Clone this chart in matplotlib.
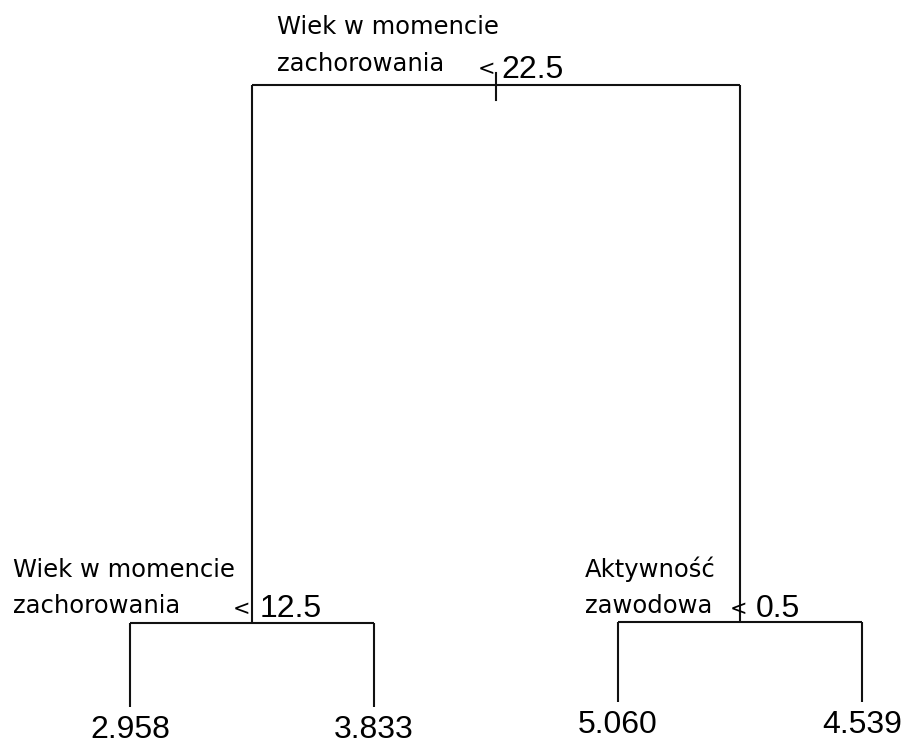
import matplotlib.pyplot as plt

# regression tree (R "tree" style), nodes numbered like the frame: 1 root, 2/3 splits, leaves below
split_line1 = ['Wiek w momencie', 'Wiek w momencie', 'Aktywność']
split_line2 = ['zachorowania', 'zachorowania', 'zawodowa']
thresholds = ['22.5', '12.5', '0.5']
split_height = [6.22, 0.845, 0.85]       # root, left, right (deviance-like scale)
leaf_means = ['2.958', '3.833', '5.060', '4.539']
leaf_height = [0.0, 0.0, 0.05, 0.05]
children = [(1, 2), ('L0', 'L1'), ('L2', 'L3')]  # node 0 -> nodes 1,2 ; nodes 1,2 -> leaves

# layout: leaves get x = 1..n, splits sit in the middle of their children
leaf_x = [i + 1 for i in range(len(leaf_means))]
split_x = [0.0] * 3
split_x[1] = (leaf_x[0] + leaf_x[1]) / 2
split_x[2] = (leaf_x[2] + leaf_x[3]) / 2
split_x[0] = (split_x[1] + split_x[2]) / 2

def pos(n):
    if isinstance(n, str):
        i = int(n[1:])
        return leaf_x[i], leaf_height[i]
    return split_x[n], split_height[n]

# hand tuned text offsets (pixels) per split: label left, label baselines, "<", number
lab_dx = [-219, -239, -155]
lab_dy1 = [51, 45.5, 45]
lab_dy2 = [14, 9.5, 9]
lt_dx = [-18, -19, -10]
lt_dy = [10, 7.5, 7]
num_dx = [5.5, 7.5, 15.6]
num_dy = [7, 5.5, 5]

fig = plt.figure(figsize=(9.07, 7.39), dpi=100)
ax = fig.add_axes([0, 0, 1, 1])
ax.set_xlim(1 - 130 / 244, 1 + 777 / 244)
ax.set_ylim(-0.32, 7.07)
ax.axis('off')

lw = 1.5
col = '#111111'
label_font = dict(family='DejaVu Sans', size=17.5, color='black')
lt_font = dict(family='DejaVu Sans', size=15, color='black')
num_font = dict(family='Liberation Sans', size=23, color='black')

for k in range(3):
    x0, y0 = split_x[k], split_height[k]
    (xa, ya), (xb, yb) = pos(children[k][0]), pos(children[k][1])
    ax.plot([xa, xb], [y0, y0], color=col, lw=lw, solid_capstyle='butt')
    ax.plot([xa, xa], [y0, ya], color=col, lw=lw, solid_capstyle='butt')
    ax.plot([xb, xb], [y0, yb], color=col, lw=lw, solid_capstyle='butt')

    ax.annotate(split_line1[k], (x0, y0), xytext=(lab_dx[k], lab_dy1[k]),
                textcoords='offset pixels', ha='left', va='baseline', **label_font)
    ax.annotate(split_line2[k], (x0, y0), xytext=(lab_dx[k], lab_dy2[k]),
                textcoords='offset pixels', ha='left', va='baseline', **label_font)
    ax.annotate('<', (x0, y0), xytext=(lt_dx[k], lt_dy[k]),
                textcoords='offset pixels', ha='left', va='baseline', **lt_font)
    ax.annotate(thresholds[k], (x0, y0), xytext=(num_dx[k], num_dy[k]),
                textcoords='offset pixels', ha='left', va='baseline', **num_font)

# small stem through the root
ax.plot([split_x[0], split_x[0]], [split_height[0] + 0.12, split_height[0] - 0.15],
        color=col, lw=lw)

# leaf means under each terminal branch (cut by the lower edge, as in the original)
for i in range(len(leaf_means)):
    ax.annotate(leaf_means[i], (leaf_x[i], leaf_height[i]), xytext=(0, -31),
                textcoords='offset pixels', ha='center', va='baseline', **num_font)

fig.savefig('out.png', dpi=100, facecolor='white')
